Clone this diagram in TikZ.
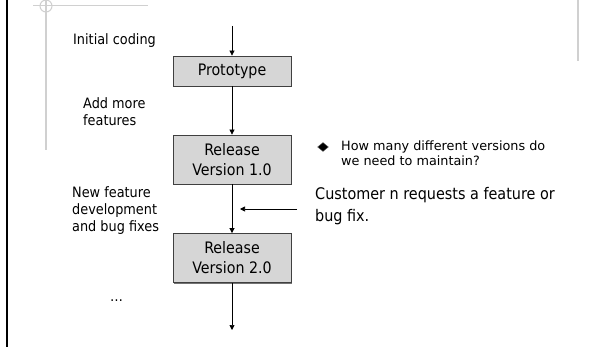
\documentclass[tikz,border=0pt]{standalone}
\usepackage{fontspec}
\setmainfont{DejaVu Sans Condensed}
\newfontfamily\bulletfont{DejaVu Sans}
\usetikzlibrary{arrows.meta,shapes.geometric,shadows}
\definecolor{boxgray}{HTML}{D6D6D6}
\definecolor{rulegray}{HTML}{D0D0D0}
\tikzset{
  stage/.style={draw=black!75, fill=boxgray, line width=0.8pt, minimum width=118pt,
    align=center, inner sep=0pt, font=\fontsize{15.8}{20}\selectfont,
    drop shadow={shadow xshift=1.2pt, shadow yshift=-1.2pt, fill=black!55, opacity=1}},
  note/.style={anchor=base west, align=left, inner sep=0pt, font=\fontsize{14.3}{17.3}\selectfont},
  flow/.style={-{Triangle[length=5pt,width=5pt]}, line width=0.7pt}
}
\begin{document}
\begin{tikzpicture}[x=1pt,y=-1pt]
\useasboundingbox (0,0) rectangle (591,347);
% slide frame
\draw[line width=2.5pt] (7,0) -- (7,347);
\draw[rulegray, line width=1.2pt] (33,5.5) -- (148,5.5);
\draw[rulegray, line width=1.2pt] (46,0) -- (46,150);
\draw[rulegray, line width=1pt] (46,6) circle (6);
\draw[rulegray, line width=1.5pt] (578,0) -- (578,61);
% releases
\node[stage, minimum height=30pt] (proto) at (232,71) {Prototype};
\node[stage, minimum height=49pt] (rel1) at (232,159.5) {Release\\Version 1.0};
\node[stage, minimum height=49pt] (rel2) at (232,258) {Release\\Version 2.0};
\coordinate (start) at (232,26);
\coordinate (finish) at (232,330);
\coordinate (request) at (297,209);
\coordinate (hit) at (240,209);
\draw[flow] (start) -- (proto);
\draw[flow] (proto) -- (rel1);
\draw[flow] (rel1) -- (rel2);
\draw[flow] (rel2) -- (finish);
\draw[flow] (request) -- (hit);
% labels (base = last line)
\node[note] (initial) at (73,45) {Initial coding};
\node[note] (more) at (83,125.6) {Add more\\features};
\node[note] (newdev) at (72,231.9) {New feature\\development\\and bug fixes};
\node[note] (dots) at (110,301.7) {…};
\node[diamond, fill=black, draw=black!60, inner sep=0pt, minimum width=11pt, minimum height=9pt] (mark) at (323,147) {};
\node[note, font=\bulletfont\fontsize{12.8}{14.7}\selectfont] (question) at (341,165.4) {How many different versions do\\we need to maintain?};
\node[note, font=\fontsize{16}{22}\selectfont] (customer) at (315,222) {Customer n requests a feature or\\bug fix.};
\end{tikzpicture}
\end{document}
